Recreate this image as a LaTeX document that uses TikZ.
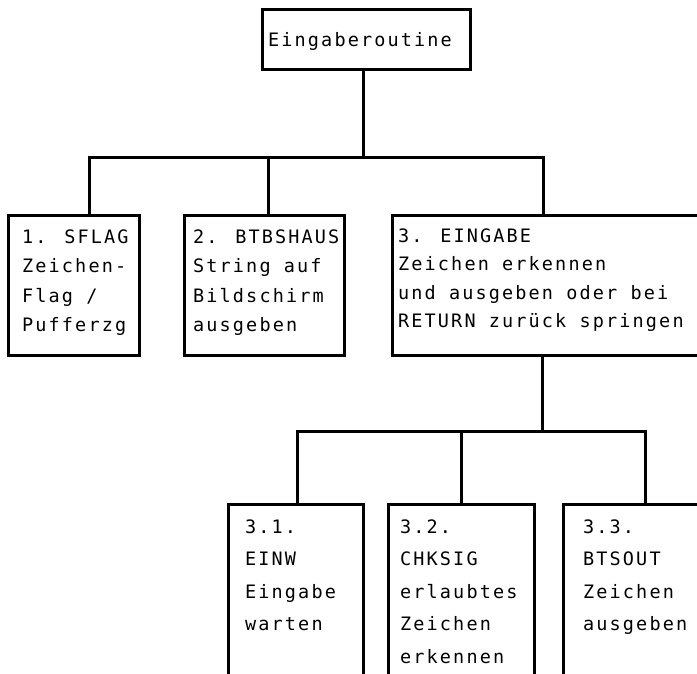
\documentclass[tikz,border=0pt]{standalone}
\usepackage{fontspec}
\newfontfamily\dotmono[LetterSpace=11.5]{DejaVu Sans Mono}
\begin{document}
\begin{tikzpicture}[x=1pt,y=-1pt,
  box/.style={draw, line width=3pt, rectangle, inner sep=0pt, anchor=north west},
  conn/.style={line width=3pt},
  lbl/.style={anchor=base west, inner sep=0pt, align=left, font=\dotmono\fontsize{18.5}{29.5}\selectfont},
  lblc/.style={lbl, font=\dotmono\fontsize{18.5}{28.5}\selectfont},
  lblb/.style={lbl, font=\dotmono\fontsize{18.5}{32.5}\selectfont}]
\useasboundingbox (0,0) rectangle (697,673);
\clip (0,0) rectangle (697,673);
% boxes
\node[box, minimum width=208pt, minimum height=60pt] (top) at (261,8) {};
\node[box, minimum width=131pt, minimum height=140pt] (b1) at (7,214) {};
\node[box, minimum width=160pt, minimum height=140pt] (b2) at (183,214) {};
\node[box, minimum width=320pt, minimum height=140pt] (b3) at (391,214) {};
\node[box, minimum width=135pt, minimum height=200pt] (c1) at (227,503) {};
\node[box, minimum width=146pt, minimum height=200pt] (c2) at (387,503) {};
\node[box, minimum width=150pt, minimum height=200pt] (c3) at (562,503) {};
% texts (anchored at the baseline of the last line)
\node[lbl] (ttop) at (268,46) {Eingaberoutine};
\node[lbl] (tb1) at (22,331.5) {1. SFLAG\\Zeichen-\\Flag /\\Pufferzg};
\node[lbl] (tb2) at (193,331.5) {2. BTBSHAUS\\String auf\\Bildschirm\\ausgeben};
\node[lblc] (tb3) at (398,327.5) {3. EINGABE\\Zeichen erkennen\\und ausgeben oder bei\\RETURN zurück springen};
\node[lblb] (tc1) at (245,630.5) {3.1.\\EINW\\Eingabe\\warten};
\node[lblb] (tc2) at (400,663) {3.2.\\CHKSIG\\erlaubtes\\Zeichen\\erkennen};
\node[lblb] (tc3) at (583,630.5) {3.3.\\BTSOUT\\Zeichen\\ausgeben};
% connectors
\coordinate (bus1) at (363,157);
\coordinate (bus2) at (542,431);
\draw[conn] (top.south -| bus1) -- (bus1);
\draw[conn] ([xshift=82pt]b1.north west) |- (bus1);
\draw[conn] ([xshift=85pt]b2.north west) |- (bus1);
\draw[conn] ([xshift=152pt]b3.north west) |- (bus1);
\draw[conn] (b3.south -| bus2) -- (bus2);
\draw[conn] ([xshift=70pt]c1.north west) |- (bus2);
\draw[conn] ([xshift=74pt]c2.north west) |- (bus2);
\draw[conn] ([xshift=83pt]c3.north west) |- (bus2);
\end{tikzpicture}
\end{document}
